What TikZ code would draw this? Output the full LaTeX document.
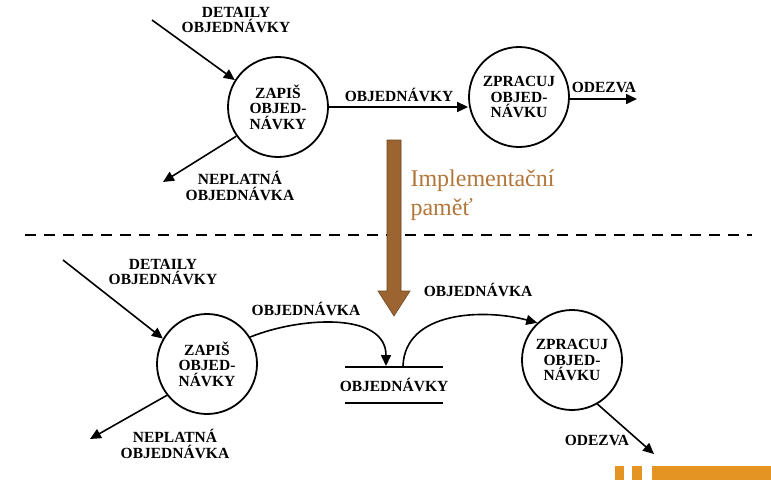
\documentclass[tikz,border=0pt]{standalone}
\usepackage{fontspec}
\setmainfont{Liberation Serif}
\usetikzlibrary{arrows.meta, positioning}
\definecolor{implbrown}{RGB}{155,100,48}
\definecolor{impltext}{RGB}{178,118,58}
\definecolor{barorange}{RGB}{228,148,34}
\tikzset{
    process/.style={circle, draw=black, line width=1.8pt, minimum size=100pt, inner sep=0pt, align=center, font=\bfseries\fontsize{15.5}{15.5}\selectfont},
    flowlabel/.style={align=center, font=\bfseries\fontsize{15.5}{15.5}\selectfont},
    arrow/.style={line width=1.6pt, -{Triangle[length=11pt,width=10pt]}},
    storeline/.style={line width=2.4pt},
    memory/.style={fill=implbrown, draw=implbrown!70!black, line width=0.6pt}
}

\begin{document}
\begin{tikzpicture}[x=1pt, y=-1pt]
    \useasboundingbox (0,0) rectangle (771,499);

    % upper part: logical model
    \node (zapis1) [process] at (278,107) {ZAPIŠ\\OBJED-\\NÁVKY};
    \node (zpracuj1) [process] at (519,97) {ZPRACUJ\\OBJED-\\NÁVKU};
    \coordinate (detin1) at (152,20);
    \coordinate (neplout1) at (163,182);
    \coordinate (odezva1) at (637,99);

    \draw [arrow] (detin1) -- (zapis1.148);
    \draw [arrow] (zapis1.215) -- (neplout1);
    \draw [arrow] (zapis1.east) -- (zpracuj1.west |- zapis1.east);
    \draw [arrow] (zpracuj1.east |- odezva1) -- (odezva1);

    \node [flowlabel] at (236,20) {DETAILY\\OBJEDNÁVKY};
    \node [flowlabel] at (240,186) {NEPLATNÁ\\OBJEDNÁVKA};
    \node [flowlabel] at (399,95) {OBJEDNÁVKY};
    \node [flowlabel] at (604,87) {ODEZVA};

    \draw [line width=1.8pt, dash pattern=on 11pt off 8pt] (25,235) -- (752,235);

    % implementation arrow
    \draw [memory] (387,140) -- (401,140) -- (401,291) -- (410,291) -- (394,316)
        -- (378,291) -- (387,291) -- cycle;
    \node [align=left, text=impltext, font=\fontsize{24}{29}\selectfont, anchor=north west]
        at (407,166) {Implementační\\paměť};

    % lower part: with data store
    \node (zapis2) [process] at (207,364) {ZAPIŠ\\OBJED-\\NÁVKY};
    \node (zpracuj2) [process] at (572,360) {ZPRACUJ\\OBJED-\\NÁVKU};
    \node (store) [flowlabel] at (394,385) {OBJEDNÁVKY};
    \draw [storeline] (345,367) -- (443,367);
    \draw [storeline] (345,403) -- (443,403);
    \coordinate (storein) at (386,366);
    \coordinate (storeout) at (403,366);
    \coordinate (detin2) at (63,260);
    \coordinate (neplout2) at (90,439);
    \coordinate (odezva2) at (654,454);

    \draw [arrow] (detin2) -- (zapis2.150);
    \draw [arrow] (zapis2.218) -- (neplout2);
    \draw [arrow] (zapis2.32) to[out=22, in=90] (storein);
    \draw [arrow] (storeout) to[out=88, in=165] (zpracuj2.133);
    \draw [arrow] (zpracuj2.300) -- (odezva2);

    \node [flowlabel] at (163,272) {DETAILY\\OBJEDNÁVKY};
    \node [flowlabel] at (175,444) {NEPLATNÁ\\OBJEDNÁVKA};
    \node [flowlabel] at (306,309) {OBJEDNÁVKA};
    \node [flowlabel] at (478,290) {OBJEDNÁVKA};
    \node [flowlabel] at (597,440) {ODEZVA};

    % corner bars
    \fill [barorange] (615,466) rectangle (624,480);
    \fill [barorange] (632,466) rectangle (642,480);
    \fill [barorange] (652,466) rectangle (771,480);
\end{tikzpicture}
\end{document}
